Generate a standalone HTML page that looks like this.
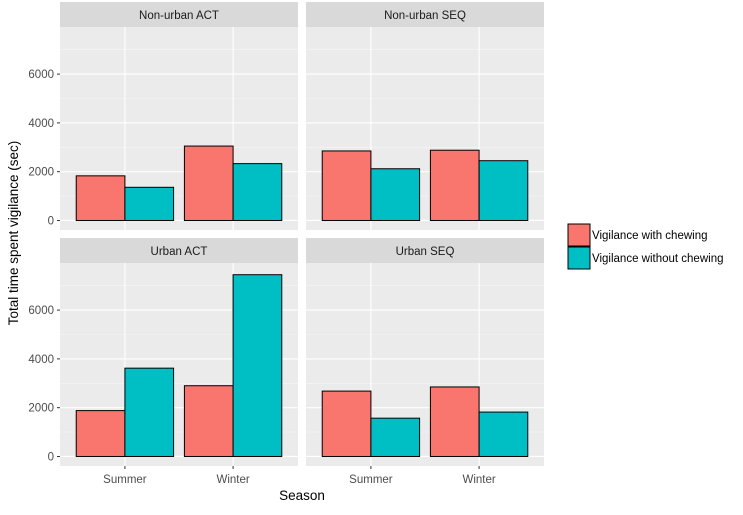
<!DOCTYPE html>
<html><head><meta charset="utf-8"><style>
body{margin:0;background:#fff;font-family:"Liberation Sans",sans-serif}
</style></head><body>
<svg id="c" width="743" height="510" xmlns="http://www.w3.org/2000/svg"></svg>
<script>
const panels=["Non-urban ACT","Non-urban SEQ","Urban ACT","Urban SEQ"];
const seasons=["Summer","Winter"];
const withChewing=[[1830,3050],[2850,2880],[1880,2900],[2680,2850]];
const withoutChewing=[[1360,2330],[2120,2450],[3620,7450],[1570,1820]];
const yTicks=[0,2000,4000,6000];
const seriesNames=["Vigilance with chewing","Vigilance without chewing"];
const colors=["#F8766D","#00BFC4"];
const NS="http://www.w3.org/2000/svg";
const svg=document.getElementById('c');
function mk(t,a,p){const e=document.createElementNS(NS,t);for(const k in a)e.setAttribute(k,a[k]);(p||svg).appendChild(e);return e;}
const px=[[60,298],[306,544]], py=[[27,230],[263,466]];
const yMin=-390,yMax=7930;
panels.forEach((name,i)=>{
  const c=i%2,r=Math.floor(i/2);
  const [x0,x1]=px[c],[y0,y1]=py[r];
  const g=mk('g',{});
  
  
  const ys=v=>y1-(v-yMin)/(yMax-yMin)*(y1-y0);
  const unit=(x1-x0)/(seasons.length+0.2);
  const xs=k=>x0+unit*(k+0.6);
  mk('rect',{x:x0,y:y0-25,width:x1-x0,height:25,fill:'#d9d9d9'},g);
  const st=mk('text',{x:(x0+x1)/2,y:y0-8,'text-anchor':'middle','font-size':11.5,fill:'#1a1a1a'},g);
  st.textContent=name;
  
  
  mk('rect',{x:x0,y:y0,width:x1-x0,height:y1-y0,fill:'#ebebeb'},g);
  for(let k=0;k<yTicks.length;k++){const v=yTicks[k]+1000;if(ys(v)>y0)mk('line',{x1:x0,x2:x1,y1:ys(v),y2:ys(v),stroke:'#f5f5f5','stroke-width':0.6},g);}
  if(ys(-1000)<y1)mk('line',{x1:x0,x2:x1,y1:ys(-1000),y2:ys(-1000),stroke:'#f5f5f5','stroke-width':0.6},g);
  yTicks.forEach(v=>mk('line',{x1:x0,x2:x1,y1:ys(v),y2:ys(v),stroke:'#fff','stroke-width':1.1},g));
  seasons.forEach((s,k)=>mk('line',{x1:xs(k),x2:xs(k),y1:y0,y2:y1,stroke:'#fff','stroke-width':1.1},g));
  seasons.forEach((s,k)=>{
    const bw=unit*0.9/2;
    [withChewing,withoutChewing].forEach((arr,j)=>{
      const v=arr[i][k];
      const b=mk('rect',{x:xs(k)-bw+j*bw,y:ys(v),width:bw,height:ys(0)-ys(v),fill:colors[j],stroke:'#000','stroke-width':1},g);
      
      
    });
  });
  if(c===0){yTicks.forEach(v=>{
    mk('line',{x1:x0-3,x2:x0,y1:ys(v),y2:ys(v),stroke:'#333'},g);
    const t=mk('text',{x:x0-6,y:ys(v)+4,'text-anchor':'end','font-size':11.5,fill:'#4d4d4d'},g);t.textContent=v;
    
    
  });}
  if(r===1){seasons.forEach((s,k)=>{
    mk('line',{x1:xs(k),x2:xs(k),y1:y1,y2:y1+3,stroke:'#333'},g);
    const t=mk('text',{x:xs(k),y:y1+17,'text-anchor':'middle','font-size':11.5,fill:'#4d4d4d'},g);t.textContent=s;
    
    
  });}
});
const yl=mk('text',{x:0,y:0,transform:'translate(18,233) rotate(-90)','text-anchor':'middle','font-size':13.5,fill:'#000'});
yl.textContent='Total time spent vigilance (sec)';


const xl=mk('text',{x:302,y:500,'text-anchor':'middle','font-size':13.5,fill:'#000'});
xl.textContent='Season';


seriesNames.forEach((n,j)=>{
  const g=mk('g',{});
  
  
  mk('rect',{x:568,y:224+j*23,width:22,height:22,fill:colors[j],stroke:'#000','stroke-width':1},g);
  const t=mk('text',{x:592,y:239+j*23,'font-size':11.5,fill:'#000'},g);t.textContent=n;
});
</script>
</body></html>
